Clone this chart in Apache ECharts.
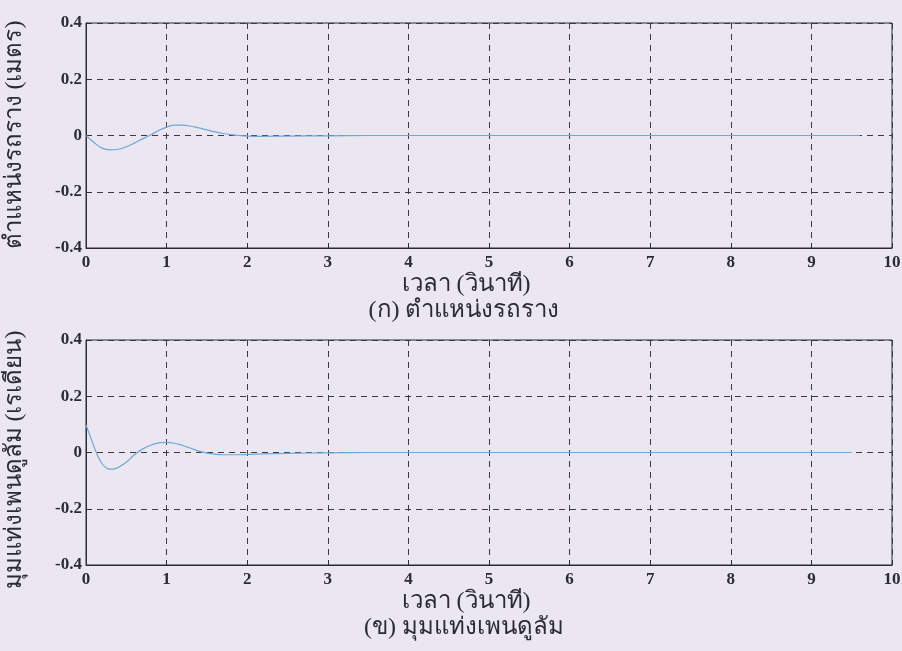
<!DOCTYPE html>
<html><head><meta charset="utf-8">
<script src="https://cdn.jsdelivr.net/npm/echarts@6/dist/echarts.min.js"></script>
<style>html,body{margin:0;padding:0;background:#ebe7f1}#c{width:902px;height:651px}</style>
</head><body><div id="c"></div>
<script>
// Top plot: cart position (m)
const posT = [0,0.1,0.2,0.3,0.4,0.5,0.6,0.7,0.8,0.9,1.0,1.1,1.2,1.3,1.4,1.5,1.6,1.7,1.8,1.9,2.0,2.2,2.5,3.0,3.5,4,5,6,7,8,9,9.6];
const posV = [0,-0.025,-0.045,-0.051,-0.049,-0.040,-0.027,-0.012,0.002,0.018,0.030,0.037,0.037,0.033,0.027,0.020,0.013,0.007,0.003,0.000,-0.002,-0.003,-0.002,-0.001,0,0,0,0,0,0,0,0];
// Bottom plot: pendulum angle (rad)
const angT = [0,0.05,0.1,0.15,0.2,0.25,0.3,0.35,0.4,0.5,0.6,0.7,0.8,0.9,1.0,1.1,1.2,1.3,1.4,1.5,1.6,1.7,1.8,2.0,2.2,2.5,3.0,3.5,4,5,6,7,8,9,9.5];
const angV = [0.098,0.060,0.020,-0.015,-0.040,-0.054,-0.059,-0.058,-0.053,-0.035,-0.008,0.012,0.026,0.034,0.036,0.033,0.025,0.015,0.005,-0.002,-0.006,-0.008,-0.008,-0.007,-0.005,-0.003,-0.001,0,0,0,0,0,0,0,0];
const xTicks = [0,1,2,3,4,5,6,7,8,9,10];
const yTicks = [-0.4,-0.2,0,0.2,0.4];
const xName = 'เวลา (วินาที)';
const yNames = ['ตำแหน่งรถราง (เมตร)', 'มุมแท่งเพนดูลัม (เรเดียน)'];
const captions = ['(ก) ตำแหน่งรถราง', '(ข) มุมแท่งเพนดูลัม'];

const FONT = "'Liberation Serif', 'Noto Sans', 'DejaVu Serif', serif";
const ink = '#2b2b33';
const grids = [
  {left: 86, right: 10, top: 23, height: 225, show: true, borderColor: ink, borderWidth: 1, outerBoundsMode: 'none', containLabel: false},
  {left: 86, right: 10, top: 340, height: 225, show: true, borderColor: ink, borderWidth: 1, outerBoundsMode: 'none', containLabel: false}
];
function xAxis(i){
  return {gridIndex: i, type: 'value', min: 0, max: 10, interval: 1,
    axisLine: {show: true, onZero: false, lineStyle: {color: ink, width: 1}},
    axisTick: {show: true, inside: true, length: 5, lineStyle: {color: ink}},
    axisLabel: {fontFamily: FONT, fontSize: 17, fontWeight: 'bold', color: ink, margin: 6, formatter: v => xTicks.includes(v) ? String(v) : ''},
    splitLine: {show: true, lineStyle: {color: '#3a3a44', type: [6, 5], width: 1}}
  };
}
function yAxis(i){
  return {gridIndex: i, type: 'value', min: -0.4, max: 0.4, interval: 0.2,
    axisLine: {show: true, onZero: false, lineStyle: {color: ink, width: 1}},
    axisTick: {show: true, inside: true, length: 5, lineStyle: {color: ink}},
    axisLabel: {fontFamily: FONT, fontSize: 17, fontWeight: 'bold', color: ink, margin: 4,
      formatter: v => { const r = Math.round(v*10)/10; return yTicks.some(t => Math.abs(t - r) < 1e-9) ? (r === 0 ? '0' : String(r)) : ''; }},
    splitLine: {show: true, lineStyle: {color: '#3a3a44', type: [6, 5], width: 1}}
  };
}
function txt(text, x, y, rot){
  return {type: 'text', x: x, y: y, rotation: rot || 0,
    style: {text: text, fontFamily: FONT, fontSize: 24, fill: ink, align: 'center', verticalAlign: 'middle'}};
}
const chart = echarts.init(document.getElementById('c'));
chart.setOption({
  backgroundColor: '#ebe7f1',
  animation: false,
  grid: grids,
  xAxis: [xAxis(0), xAxis(1)],
  yAxis: [yAxis(0), yAxis(1)],
  graphic: [
    txt(xName, 466, 285),
    txt(captions[0], 464, 311),
    txt(xName, 466, 602),
    txt(captions[1], 464, 628),
    txt(yNames[0], 15, 135, Math.PI / 2),
    txt(yNames[1], 15, 460, Math.PI / 2)
  ],
  series: [
    {type: 'line', xAxisIndex: 0, yAxisIndex: 0, data: posT.map((t, k) => [t, posV[k]]), smooth: 0.4, showSymbol: false, lineStyle: {color: '#6fa6dc', width: 1.2}},
    {type: 'line', xAxisIndex: 1, yAxisIndex: 1, data: angT.map((t, k) => [t, angV[k]]), smooth: 0.4, showSymbol: false, lineStyle: {color: '#6fa6dc', width: 1.2}}
  ]
});
</script></body></html>
